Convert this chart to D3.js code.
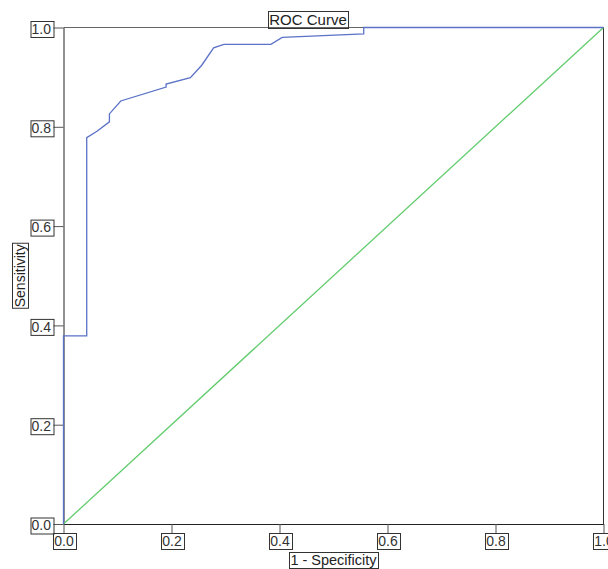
<!DOCTYPE html>
<html>
<head>
<meta charset="utf-8">
<script src="https://cdn.jsdelivr.net/npm/d3@7"></script>
<style>
  body { margin: 0; background: #fff; }
  text { font-family: "Liberation Sans", Arial, sans-serif; }
</style>
</head>
<body>
<div id="roc_chart"></div>
<script>
// ROC curve points (1 - specificity, sensitivity)
const fpr = [0, 0, 0.043, 0.043, 0.062, 0.085, 0.085, 0.106, 0.190, 0.190, 0.235, 0.256, 0.278, 0.297, 0.384, 0.405, 0.556, 0.556, 1];
const tpr = [0, 0.379, 0.379, 0.778, 0.791, 0.810, 0.826, 0.852, 0.880, 0.886, 0.899, 0.924, 0.959, 0.966, 0.966, 0.980, 0.987, 1, 1];
const refLine = [0, 1];
const tickValues = [0, 0.2, 0.4, 0.6, 0.8, 1.0];

const width = 608;
const height = 569;
const margin = {left: 63.5, right: 4.5, top: 27.5, bottom: 45};
const innerWidth = width - margin.left - margin.right;
const innerHeight = 524 - margin.top;

const svg = d3.select('#roc_chart').append('svg')
  .attr('width', width)
  .attr('height', height);

const xScale = d3.scaleLinear().domain([0, 1]).range([margin.left, margin.left + innerWidth]);
const yScale = d3.scaleLinear().domain([0, 1]).range([margin.top + innerHeight, margin.top]);

// put a thin box round a text, the way the original output does
function boxIt(textSel, pad) {
  textSel.each(function () {
    const b = this.getBBox();
    d3.select(this.parentNode).insert('rect', function () { return this; }.bind(this))
      .attr('x', Math.round(b.x - pad) + 0.5)
      .attr('y', Math.round(b.y) + 0.5)
      .attr('width', Math.round(b.width + pad * 2))
      .attr('height', Math.round(b.height))
      .attr('fill', 'none')
      .attr('stroke', '#333')
      .attr('stroke-width', 1);
  });
}

// frame top / right
svg.append('line')
  .attr('x1', margin.left).attr('x2', margin.left + innerWidth)
  .attr('y1', margin.top).attr('y2', margin.top)
  .attr('stroke', '#666');
svg.append('line')
  .attr('x1', margin.left + innerWidth).attr('x2', margin.left + innerWidth)
  .attr('y1', margin.top).attr('y2', margin.top + innerHeight)
  .attr('stroke', '#333');

const xAxis = d3.axisBottom(xScale)
  .tickValues(tickValues)
  .tickFormat(d3.format('.1f'))
  .tickSize(9)
  .tickSizeOuter(0)
  .tickPadding(1);
const yAxis = d3.axisLeft(yScale)
  .tickValues(tickValues)
  .tickFormat(d3.format('.1f'))
  .tickSize(10)
  .tickSizeOuter(0)
  .tickPadding(1);

const xAxisG = svg.append('g')
  .attr('transform', `translate(0,${margin.top + innerHeight})`)
  .call(xAxis);
const yAxisG = svg.append('g')
  .attr('transform', `translate(${margin.left},0)`)
  .call(yAxis);

[xAxisG, yAxisG].forEach(g => {
  g.select('.domain').attr('stroke', '#222');
  g.selectAll('.tick line').attr('stroke', '#555');
  g.selectAll('.tick text')
    .attr('font-size', 14)
    .attr('fill', '#333');
});
xAxisG.selectAll('.tick text').attr('dy', '0.85em');
yAxisG.selectAll('.tick text').attr('dx', '-1.5').attr('dy', '0.42em');
boxIt(xAxisG.selectAll('.tick text'), 1.5);
boxIt(yAxisG.selectAll('.tick text'), 1.5);

// reference diagonal
svg.append('line')
  .attr('x1', xScale(refLine[0])).attr('y1', yScale(refLine[0]))
  .attr('x2', xScale(refLine[1])).attr('y2', yScale(refLine[1]))
  .attr('stroke', '#62cc6e')
  .attr('stroke-width', 1.3);

// ROC curve
const line = d3.line()
  .x(d => xScale(d[0]))
  .y(d => yScale(d[1]));
svg.append('path')
  .datum(fpr.map((f, i) => [f, tpr[i]]))
  .attr('d', line)
  .attr('fill', 'none')
  .attr('stroke', '#5b72c6')
  .attr('stroke-width', 1.3);

// titles
const titleG = svg.append('g');
titleG.append('text')
  .attr('x', 308)
  .attr('y', 25)
  .attr('text-anchor', 'middle')
  .attr('font-size', 15)
  .attr('fill', '#222')
  .text('ROC Curve');
boxIt(titleG.selectAll('text'), 1);

const xLabelG = svg.append('g');
xLabelG.append('text')
  .attr('x', xScale(0.5))
  .attr('y', 565)
  .attr('text-anchor', 'middle')
  .attr('font-size', 14.5)
  .attr('fill', '#222')
  .text('1 - Specificity');
boxIt(xLabelG.selectAll('text'), 1);

const yLabelG = svg.append('g')
  .attr('transform', `translate(25,${yScale(0.5)}) rotate(-90)`);
yLabelG.append('text')
  .attr('text-anchor', 'middle')
  .attr('font-size', 14)
  .attr('fill', '#222')
  .text('Sensitivity');
boxIt(yLabelG.selectAll('text'), 1);
</script>
</body>
</html>
